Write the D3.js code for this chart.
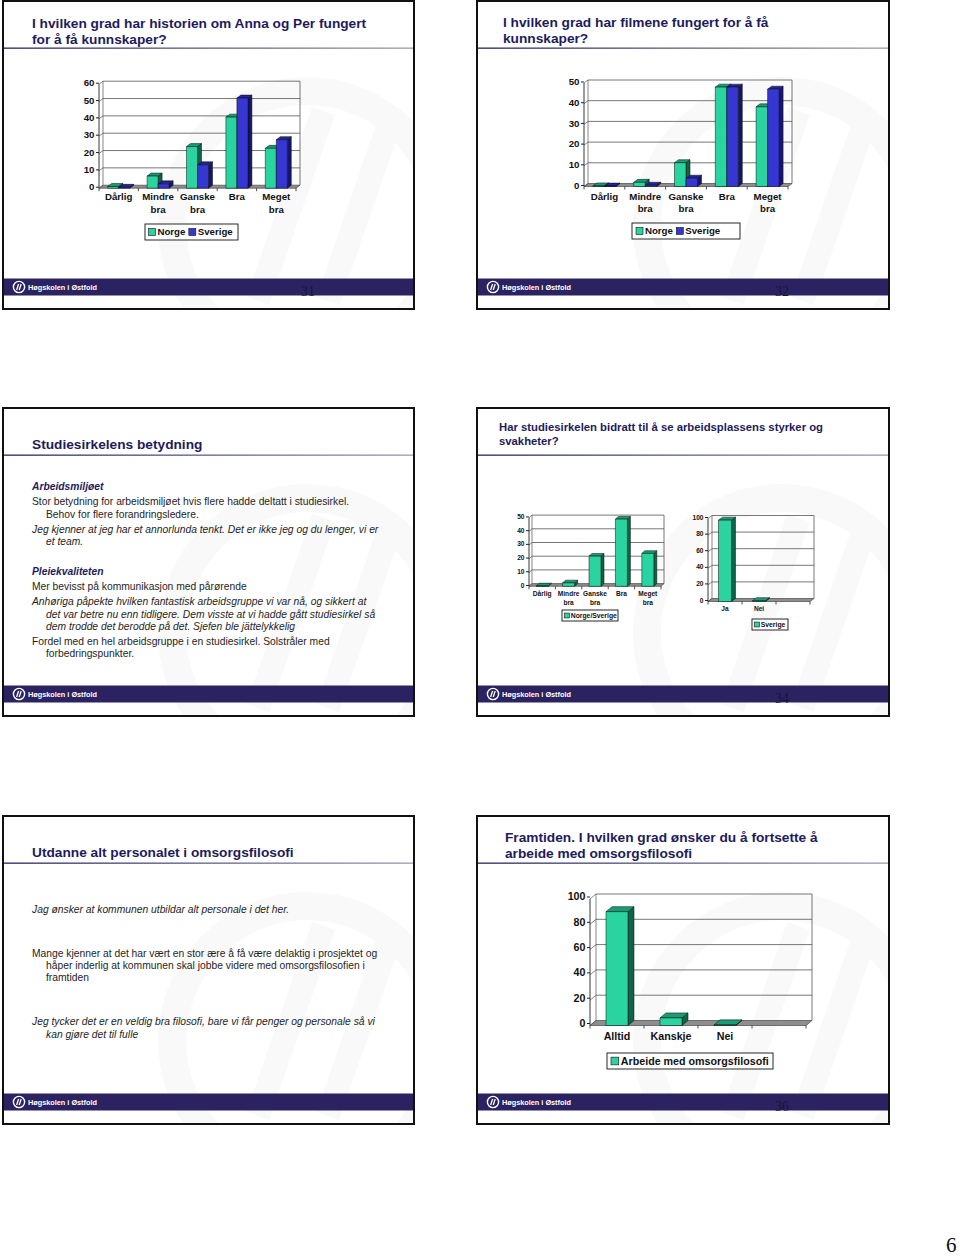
<!DOCTYPE html>
<html>
<head>
<meta charset="utf-8">
<script src="https://cdn.jsdelivr.net/npm/d3@7"></script>
<style>
  body { margin: 0; background: #fff; }
  svg { display: block; font-family: "Liberation Sans", Arial, sans-serif; }
</style>
</head>
<body>
<div id="page"></div>
<script>
// ---- data ----
const grades = ["Dårlig", "Mindre bra", "Ganske bra", "Bra", "Meget bra"];
const historyNorge = [1, 7, 24, 41, 23];
const historySverige = [0.5, 2.5, 13.5, 52, 28];
const historyTicks = [0, 10, 20, 30, 40, 50, 60];

const filmNorge = [0.3, 2, 11.5, 48, 38.5];
const filmSverige = [0.2, 0.6, 4, 48, 47];
const filmTicks = [0, 10, 20, 30, 40, 50];

const circleValues = [0.3, 2.5, 22, 49, 24];
const circleTicks = [0, 10, 20, 30, 40, 50];

const yesNo = ["Ja", "Nei", ""];
const yesNoSverige = [98, 1, null];
const yesNoTicks = [0, 20, 40, 60, 80, 100];

const futureCats = ["Alltid", "Kanskje", "Nei", ""];
const futureValues = [90, 6, 0.5, null];
const futureTicks = [0, 20, 40, 60, 80, 100];

const TEAL = { front: "#2ad4a0", top: "#179c74", side: "#0c654b" };
const BLUE = { front: "#3636d2", top: "#23239c", side: "#15156a" };
const NAVY = "#1d1b5c";

const svg = d3.select("#page").append("svg").attr("width", 960).attr("height", 1256);
const defs = svg.append("defs");
const ug = defs.append("linearGradient").attr("id", "uline");
ug.append("stop").attr("offset", "0%").attr("stop-color", "#24245e");
ug.append("stop").attr("offset", "100%").attr("stop-color", "#9c9cb2");

// ---- slide frame ----
function drawSlide(sx, sy, sw, num) {
  const h = 308;
  const g = svg.append("g").attr("transform", `translate(${sx},${sy})`);
  const id = `clip${sx}_${sy}`;
  defs.append("clipPath").attr("id", id).append("rect").attr("width", sw).attr("height", h);

  // faint logo watermark
  const wm = g.append("g").attr("clip-path", `url(#${id})`);
  wm.append("circle").attr("cx", sw * 0.74).attr("cy", 225).attr("r", 135)
    .attr("fill", "none").attr("stroke", "#f9f9fa").attr("stroke-width", 28);
  [0, 1].forEach(k => {
    wm.append("line")
      .attr("x1", sw * 0.62 + k * 70).attr("y1", 300)
      .attr("x2", sw * 0.78 + k * 70).attr("y2", 110)
      .attr("stroke", "#f9f9fa").attr("stroke-width", 24);
  });

  g.append("rect").attr("x", 0).attr("y", 46.5).attr("width", sw).attr("height", 1.3)
    .attr("fill", "url(#uline)");

  // footer
  g.append("rect").attr("x", 0).attr("y", 277.5).attr("width", sw).attr("height", 17)
    .attr("fill", "#2b2361");
  g.append("circle").attr("cx", 16).attr("cy", 286).attr("r", 5.6)
    .attr("fill", "none").attr("stroke", "#fff").attr("stroke-width", 1.4);
  [0, 1].forEach(k => {
    g.append("line").attr("x1", 13.6 + k * 2.6).attr("y1", 289).attr("x2", 15.6 + k * 2.6).attr("y2", 283)
      .attr("stroke", "#fff").attr("stroke-width", 1.3);
  });
  g.append("text").attr("x", 25).attr("y", 288.8).attr("font-size", 7.3).attr("font-weight", "bold")
    .attr("fill", "#fff").text("Høgskolen i Østfold");
  if (num) {
    g.append("text").attr("x", 298).attr("y", 294.5)
      .attr("font-family", "'Liberation Serif', 'DejaVu Serif', serif")
      .attr("font-size", 14).attr("fill", "#17143a").text(num);
  }

  g.append("rect").attr("x", 0).attr("y", 0).attr("width", sw).attr("height", h)
    .attr("fill", "none").attr("stroke", "#111").attr("stroke-width", 2);
  return g;
}

function title(lines, x, ys, size) {
  lines.forEach((t, i) => {
    svg.append("text").attr("x", x).attr("y", ys[i]).attr("font-size", size)
      .attr("font-weight", "bold").attr("fill", NAVY).text(t);
  });
}

function body(lines) {
  lines.forEach(([t, x, y, style]) => {
    const el = svg.append("text").attr("x", x).attr("y", y).attr("font-size", 10.3)
      .attr("fill", "#1e1e24").text(t);
    if (style.includes("i")) el.attr("font-style", "italic");
    if (style.includes("b")) el.attr("font-weight", "bold").attr("fill", NAVY);
  });
}

// ---- 3D column chart ----
function chart3d(o) {
  const g = svg.append("g");
  const { dx, dy } = o;
  const x = d3.scaleBand().domain(d3.range(o.cats.length)).range([o.x0, o.x1]);
  const y = d3.scaleLinear().domain([0, d3.max(o.ticks)]).range([o.y0, o.yTop]);
  const yMax = d3.max(o.ticks);

  // floor
  g.append("path")
    .attr("d", `M${o.x0},${o.y0}L${o.x1},${o.y0}L${o.x1 + dx},${o.y0 - dy}L${o.x0 + dx},${o.y0 - dy}Z`)
    .attr("fill", "#8e8e8e").attr("stroke", "#333").attr("stroke-width", 0.6);

  // back wall grid
  g.selectAll(".grid").data(o.ticks.filter(t => t > 0)).join("line")
    .attr("x1", o.x0 + dx).attr("x2", o.x1 + dx)
    .attr("y1", t => y(t) - dy).attr("y2", t => y(t) - dy)
    .attr("stroke", "#555").attr("stroke-width", 0.8);
  g.selectAll(".diag").data(o.ticks).join("line")
    .attr("x1", o.x0).attr("y1", t => y(t)).attr("x2", o.x0 + dx).attr("y2", t => y(t) - dy)
    .attr("stroke", "#555").attr("stroke-width", 0.7);
  g.append("line").attr("x1", o.x0 + dx).attr("x2", o.x0 + dx)
    .attr("y1", y(0) - dy).attr("y2", y(yMax) - dy).attr("stroke", "#555").attr("stroke-width", 0.7);
  g.append("line").attr("x1", o.x1 + dx).attr("x2", o.x1 + dx)
    .attr("y1", y(0) - dy).attr("y2", y(yMax) - dy).attr("stroke", "#555").attr("stroke-width", 0.8);
  g.append("line").attr("x1", o.x0).attr("x2", o.x0)
    .attr("y1", y(0)).attr("y2", y(yMax)).attr("stroke", "#222").attr("stroke-width", 0.9);

  // y axis labels
  const ax = g.append("g").attr("transform", `translate(${o.x0},${-dy / 2})`)
    .call(d3.axisLeft(y).tickValues(o.ticks).tickSize(3).tickSizeOuter(0).tickPadding(1.5));
  ax.select(".domain").remove();
  ax.selectAll("line").attr("stroke", "#222");
  ax.selectAll("text").attr("font-size", o.font).attr("font-weight", "bold")
    .attr("fill", "#111").attr("font-family", "'Liberation Sans', Arial, sans-serif");

  // category ticks and labels
  g.selectAll(".ctk").data(d3.range(o.cats.length + 1)).join("line")
    .attr("x1", i => o.x0 + i * x.step()).attr("x2", i => o.x0 + i * x.step())
    .attr("y1", o.y0).attr("y2", o.y0 + 3).attr("stroke", "#222").attr("stroke-width", 0.8);
  const bx = g.append("g").attr("transform", `translate(0,${o.y0})`)
    .call(d3.axisBottom(x).tickSize(0).tickPadding(o.catPad).tickFormat(i => o.cats[i]));
  bx.select(".domain").remove();
  bx.selectAll("text")
    .attr("font-size", o.font).attr("font-weight", "bold").attr("fill", "#111")
    .attr("font-family", "'Liberation Sans', Arial, sans-serif")
    .each(function (i) {
      const words = o.cats[i].split(" ");
      const t = d3.select(this).text(null);
      words.forEach((w, k) => t.append("tspan").attr("x", 0).attr("dy", k ? o.lineH : "0.71em").text(w));
    });

  // bars
  const n = o.series.length;
  const bars = [];
  o.cats.forEach((c, i) => o.series.forEach((s, si) => {
    if (s.values[i] != null) bars.push({ i, si, v: s.values[i], c: s.colors });
  }));
  const bg = g.selectAll(".bar").data(bars).join("g").attr("class", "bar");
  const bx0 = d => x(d.i) + x.bandwidth() / 2 - n * o.barW / 2 + d.si * o.barW;
  const w = o.barW;
  bg.append("path")
    .attr("d", d => { const x0 = bx0(d), yt = y(d.v), yb = y(0);
      return `M${x0 + w},${yt}L${x0 + w + dx},${yt - dy}L${x0 + w + dx},${yb - dy}L${x0 + w},${yb}Z`; })
    .attr("fill", d => d.c.side);
  bg.append("path")
    .attr("d", d => { const x0 = bx0(d), yt = y(d.v);
      return `M${x0},${yt}L${x0 + dx},${yt - dy}L${x0 + w + dx},${yt - dy}L${x0 + w},${yt}Z`; })
    .attr("fill", d => d.c.top);
  bg.append("rect")
    .attr("x", bx0).attr("y", d => y(d.v)).attr("width", w).attr("height", d => y(0) - y(d.v))
    .attr("fill", d => d.c.front);
  bg.selectAll("path, rect").attr("stroke", "#0a0a0a").attr("stroke-width", 0.5).attr("stroke-linejoin", "round");

  // legend
  const L = o.legend;
  const lg = g.append("g");
  lg.append("rect").attr("x", L.x).attr("y", L.y).attr("width", L.w).attr("height", L.h)
    .attr("fill", "#fff").attr("stroke", "#111").attr("stroke-width", 0.9);
  let cx = L.x + L.pad;
  const sq = L.font * 0.72;
  o.series.forEach(s => {
    lg.append("rect").attr("x", cx).attr("y", L.y + (L.h - sq) / 2).attr("width", sq).attr("height", sq)
      .attr("fill", s.colors.front).attr("stroke", "#111").attr("stroke-width", 0.6);
    cx += sq + L.font * 0.2;
    const t = lg.append("text").attr("x", cx).attr("y", L.y + L.h / 2).attr("dy", "0.36em")
      .attr("font-size", L.font).attr("font-weight", "bold").attr("fill", "#111").text(s.name);
    cx += t.node().getComputedTextLength() + L.font * 0.35;
  });
}

// ---- slides ----
drawSlide(3, 1, 411, "31");
drawSlide(477, 1, 412, "32");
drawSlide(3, 408, 411, null);
drawSlide(477, 408, 412, "34");
drawSlide(3, 816, 411, null);
drawSlide(477, 816, 412, "36");

title(["I hvilken grad har historien om Anna og Per fungert", "for å få kunnskaper?"], 32, [27.5, 43.5], 13.7);
title(["I hvilken grad har filmene fungert for å få", "kunnskaper?"], 503, [26.5, 42.5], 13.7);
title(["Studiesirkelens betydning"], 32, [449], 13.7);
title(["Har studiesirkelen bidratt til å se arbeidsplassens styrker og", "svakheter?"], 499, [431, 444.5], 11.3);
title(["Utdanne alt personalet i omsorgsfilosofi"], 32, [857], 13.7);
title(["Framtiden. I hvilken grad ønsker du å fortsette å", "arbeide med omsorgsfilosofi"], 505, [841.5, 857.5], 13.7);

body([
  ["Arbeidsmiljøet", 32, 489.5, "bi"],
  ["Stor betydning for arbeidsmiljøet hvis flere hadde deltatt i studiesirkel.", 32, 504.5, ""],
  ["Behov for flere forandringsledere.", 46, 517.5, ""],
  ["Jeg kjenner at jeg har et annorlunda tenkt. Det er ikke jeg og du lenger, vi er", 32, 532.5, "i"],
  ["et team.", 46, 544.5, "i"],
  ["Pleiekvaliteten", 32, 574.5, "bi"],
  ["Mer bevisst på kommunikasjon med pårørende", 32, 589.5, ""],
  ["Anhøriga påpekte hvilken fantastisk arbeidsgruppe vi var nå, og sikkert at", 32, 604.5, "i"],
  ["det var betre nu enn tidligere. Dem visste at vi hadde gått studiesirkel så", 46, 617.5, "i"],
  ["dem trodde det berodde på det. Sjefen ble jättelykkelig", 46, 629.5, "i"],
  ["Fordel med en hel arbeidsgruppe i en studiesirkel. Solstråler med", 32, 644.5, ""],
  ["forbedringspunkter.", 46, 656.5, ""]
]);

body([
  ["Jag ønsker at kommunen utbildar alt personale i det her.", 32, 912.5, "i"],
  ["Mange kjenner at det har vært en stor ære å få være delaktig i prosjektet og", 32, 956.5, ""],
  ["håper inderlig at kommunen skal jobbe videre med omsorgsfilosofien i", 46, 968.5, ""],
  ["framtiden", 46, 980.5, ""],
  ["Jeg tycker det er en veldig bra filosofi, bare vi får penger og personale så vi", 32, 1025, "i"],
  ["kan gjøre det til fulle", 46, 1037.5, "i"]
]);

// ---- charts ----
chart3d({
  cats: grades, ticks: historyTicks,
  series: [{ name: "Norge", values: historyNorge, colors: TEAL }, { name: "Sverige", values: historySverige, colors: BLUE }],
  x0: 99, x1: 296, y0: 188.2, yTop: 84.2, dx: 4, dy: 3, barW: 11, font: 9.7, catPad: 5.4, lineH: 13,
  legend: { x: 145, y: 224, w: 93, h: 16, pad: 3.5, font: 9.7 }
});

chart3d({
  cats: grades, ticks: filmTicks,
  series: [{ name: "Norge", values: filmNorge, colors: TEAL }, { name: "Sverige", values: filmSverige, colors: BLUE }],
  x0: 584, x1: 788, y0: 186.5, yTop: 83, dx: 4, dy: 3, barW: 11.5, font: 9.7, catPad: 6.6, lineH: 12,
  legend: { x: 632, y: 223, w: 108, h: 16, pad: 4, font: 9.7 }
});

chart3d({
  cats: grades, ticks: circleTicks,
  series: [{ name: "Norge/Sverige", values: circleValues, colors: TEAL }],
  x0: 529, x1: 661, y0: 586.3, yTop: 517.8, dx: 3, dy: 2.7, barW: 12, font: 6.6, catPad: 5.4, lineH: 8.7,
  legend: { x: 562, y: 610, w: 56, h: 11, pad: 2.5, font: 6.8 }
});

chart3d({
  cats: yesNo, ticks: yesNoTicks,
  series: [{ name: "Sverige", values: yesNoSverige, colors: TEAL }],
  x0: 708, x1: 810, y0: 601.5, yTop: 518.5, dx: 4, dy: 3, barW: 13, font: 6.6, catPad: 5.2, lineH: 8.7,
  legend: { x: 752, y: 619, w: 36, h: 11, pad: 2.5, font: 6.8 }
});

chart3d({
  cats: futureCats, ticks: futureTicks,
  series: [{ name: "Arbeide med omsorgsfilosofi", values: futureValues, colors: TEAL }],
  x0: 590, x1: 806, y0: 1025.5, yTop: 899, dx: 6, dy: 5, barW: 22, font: 10.7, catPad: 7.4, lineH: 12,
  legend: { x: 607, y: 1053, w: 166, h: 16, pad: 4, font: 10.7 }
});

// page number
svg.append("text").attr("x", 946).attr("y", 1252)
  .attr("font-family", "'Liberation Serif', 'DejaVu Serif', serif").attr("font-size", 21)
  .attr("fill", "#111").text("6");
</script>
</body>
</html>
